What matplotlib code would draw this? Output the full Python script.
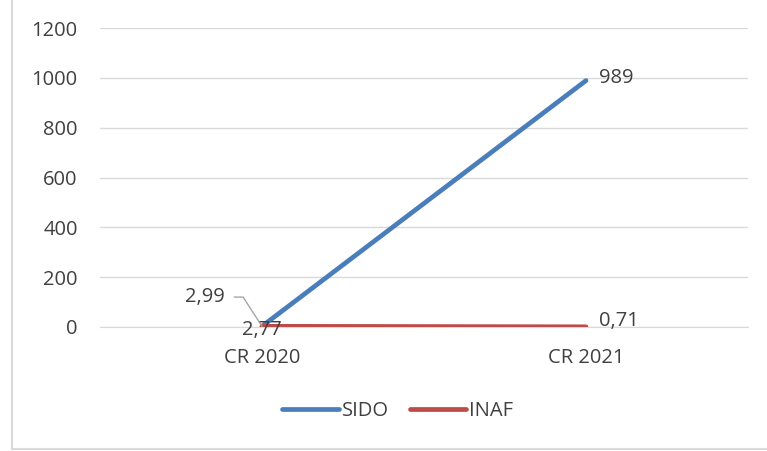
import matplotlib
matplotlib.use("Agg")
import matplotlib.pyplot as plt
from matplotlib.lines import Line2D

categories = ["CR 2020", "CR 2021"]
sido = [2.99, 989]
inaf = [2.77, 0.71]
sido_labels = ["2,99", "989"]
inaf_labels = ["2,77", "0,71"]
yticks = [0, 200, 400, 600, 800, 1000, 1200]

plt.rcParams['font.family'] = ['Open Sans', 'DejaVu Sans']
txt = '#404040'
fs = 14.5
fig = plt.figure(figsize=(7.67, 4.51), dpi=100)
ax = fig.add_axes([100/767, 1 - 327/451, 648/767, 299/451])

# partial chart border (left and bottom)
fig.add_artist(Line2D([12/767, 12/767], [1 - 449/451, 1.0], transform=fig.transFigure,
                      color='#d9d9d9', lw=1.5))
fig.add_artist(Line2D([12/767, 1.0], [1 - 449/451, 1 - 449/451], transform=fig.transFigure,
                      color='#d9d9d9', lw=1.5))

x = [0, 1]
ax.plot(x, sido, color='#4a7ebb', linewidth=3.4, solid_capstyle='round', label='SIDO', zorder=3)
ax.plot(x, inaf, color='#be4b48', linewidth=3.4, solid_capstyle='round', label='INAF', zorder=3)
ax.set_xlim(-0.5, 1.5)
ax.set_ylim(0, 1200)
ax.set_yticks(yticks)
ax.set_yticklabels([str(v) for v in yticks], color=txt, fontsize=fs)
ax.set_xticks(x)
ax.set_xticklabels(categories, color=txt, fontsize=fs)
ax.grid(axis='y', color='#d9d9d9', linewidth=1)
ax.set_axisbelow(True)
for s in ['top', 'right', 'left']:
    ax.spines[s].set_visible(False)
ax.spines['bottom'].set_color('#d9d9d9')
ax.tick_params(axis='y', length=0, pad=16)
ax.tick_params(axis='x', length=0, pad=15)

# data labels
ax.annotate(sido_labels[0], xy=(x[0], sido[0]), xytext=(-27, 21), textcoords='offset points',
            ha='right', va='center', fontsize=fs, color=txt,
            arrowprops=dict(arrowstyle='-', color='#a6a6a6', lw=1,
                            connectionstyle='angle,angleA=0,angleB=123,rad=0', shrinkA=5, shrinkB=0))
ax.annotate(inaf_labels[0], xy=(x[0], inaf[0]), xytext=(0, -3), textcoords='offset points',
            ha='center', va='center', fontsize=fs, color=txt, zorder=5)
ax.annotate(sido_labels[1], xy=(x[1], sido[1]), xytext=(9, 2), textcoords='offset points',
            ha='left', va='center', fontsize=fs, color=txt)
ax.annotate(inaf_labels[1], xy=(x[1], inaf[1]), xytext=(9, 4), textcoords='offset points',
            ha='left', va='center', fontsize=fs, color=txt)

handles = [Line2D([0], [0], color='#4a7ebb', lw=3.4, solid_capstyle='round'),
           Line2D([0], [0], color='#be4b48', lw=3.4, solid_capstyle='round')]
fig.legend(handles, ['SIDO', 'INAF'], loc='center', bbox_to_anchor=(398/767, 1 - 411/451),
           ncol=2, frameon=False, fontsize=fs, labelcolor=txt, handlelength=2.8,
           handletextpad=0.15, columnspacing=1.05)

fig.savefig('out.png', dpi=100)
